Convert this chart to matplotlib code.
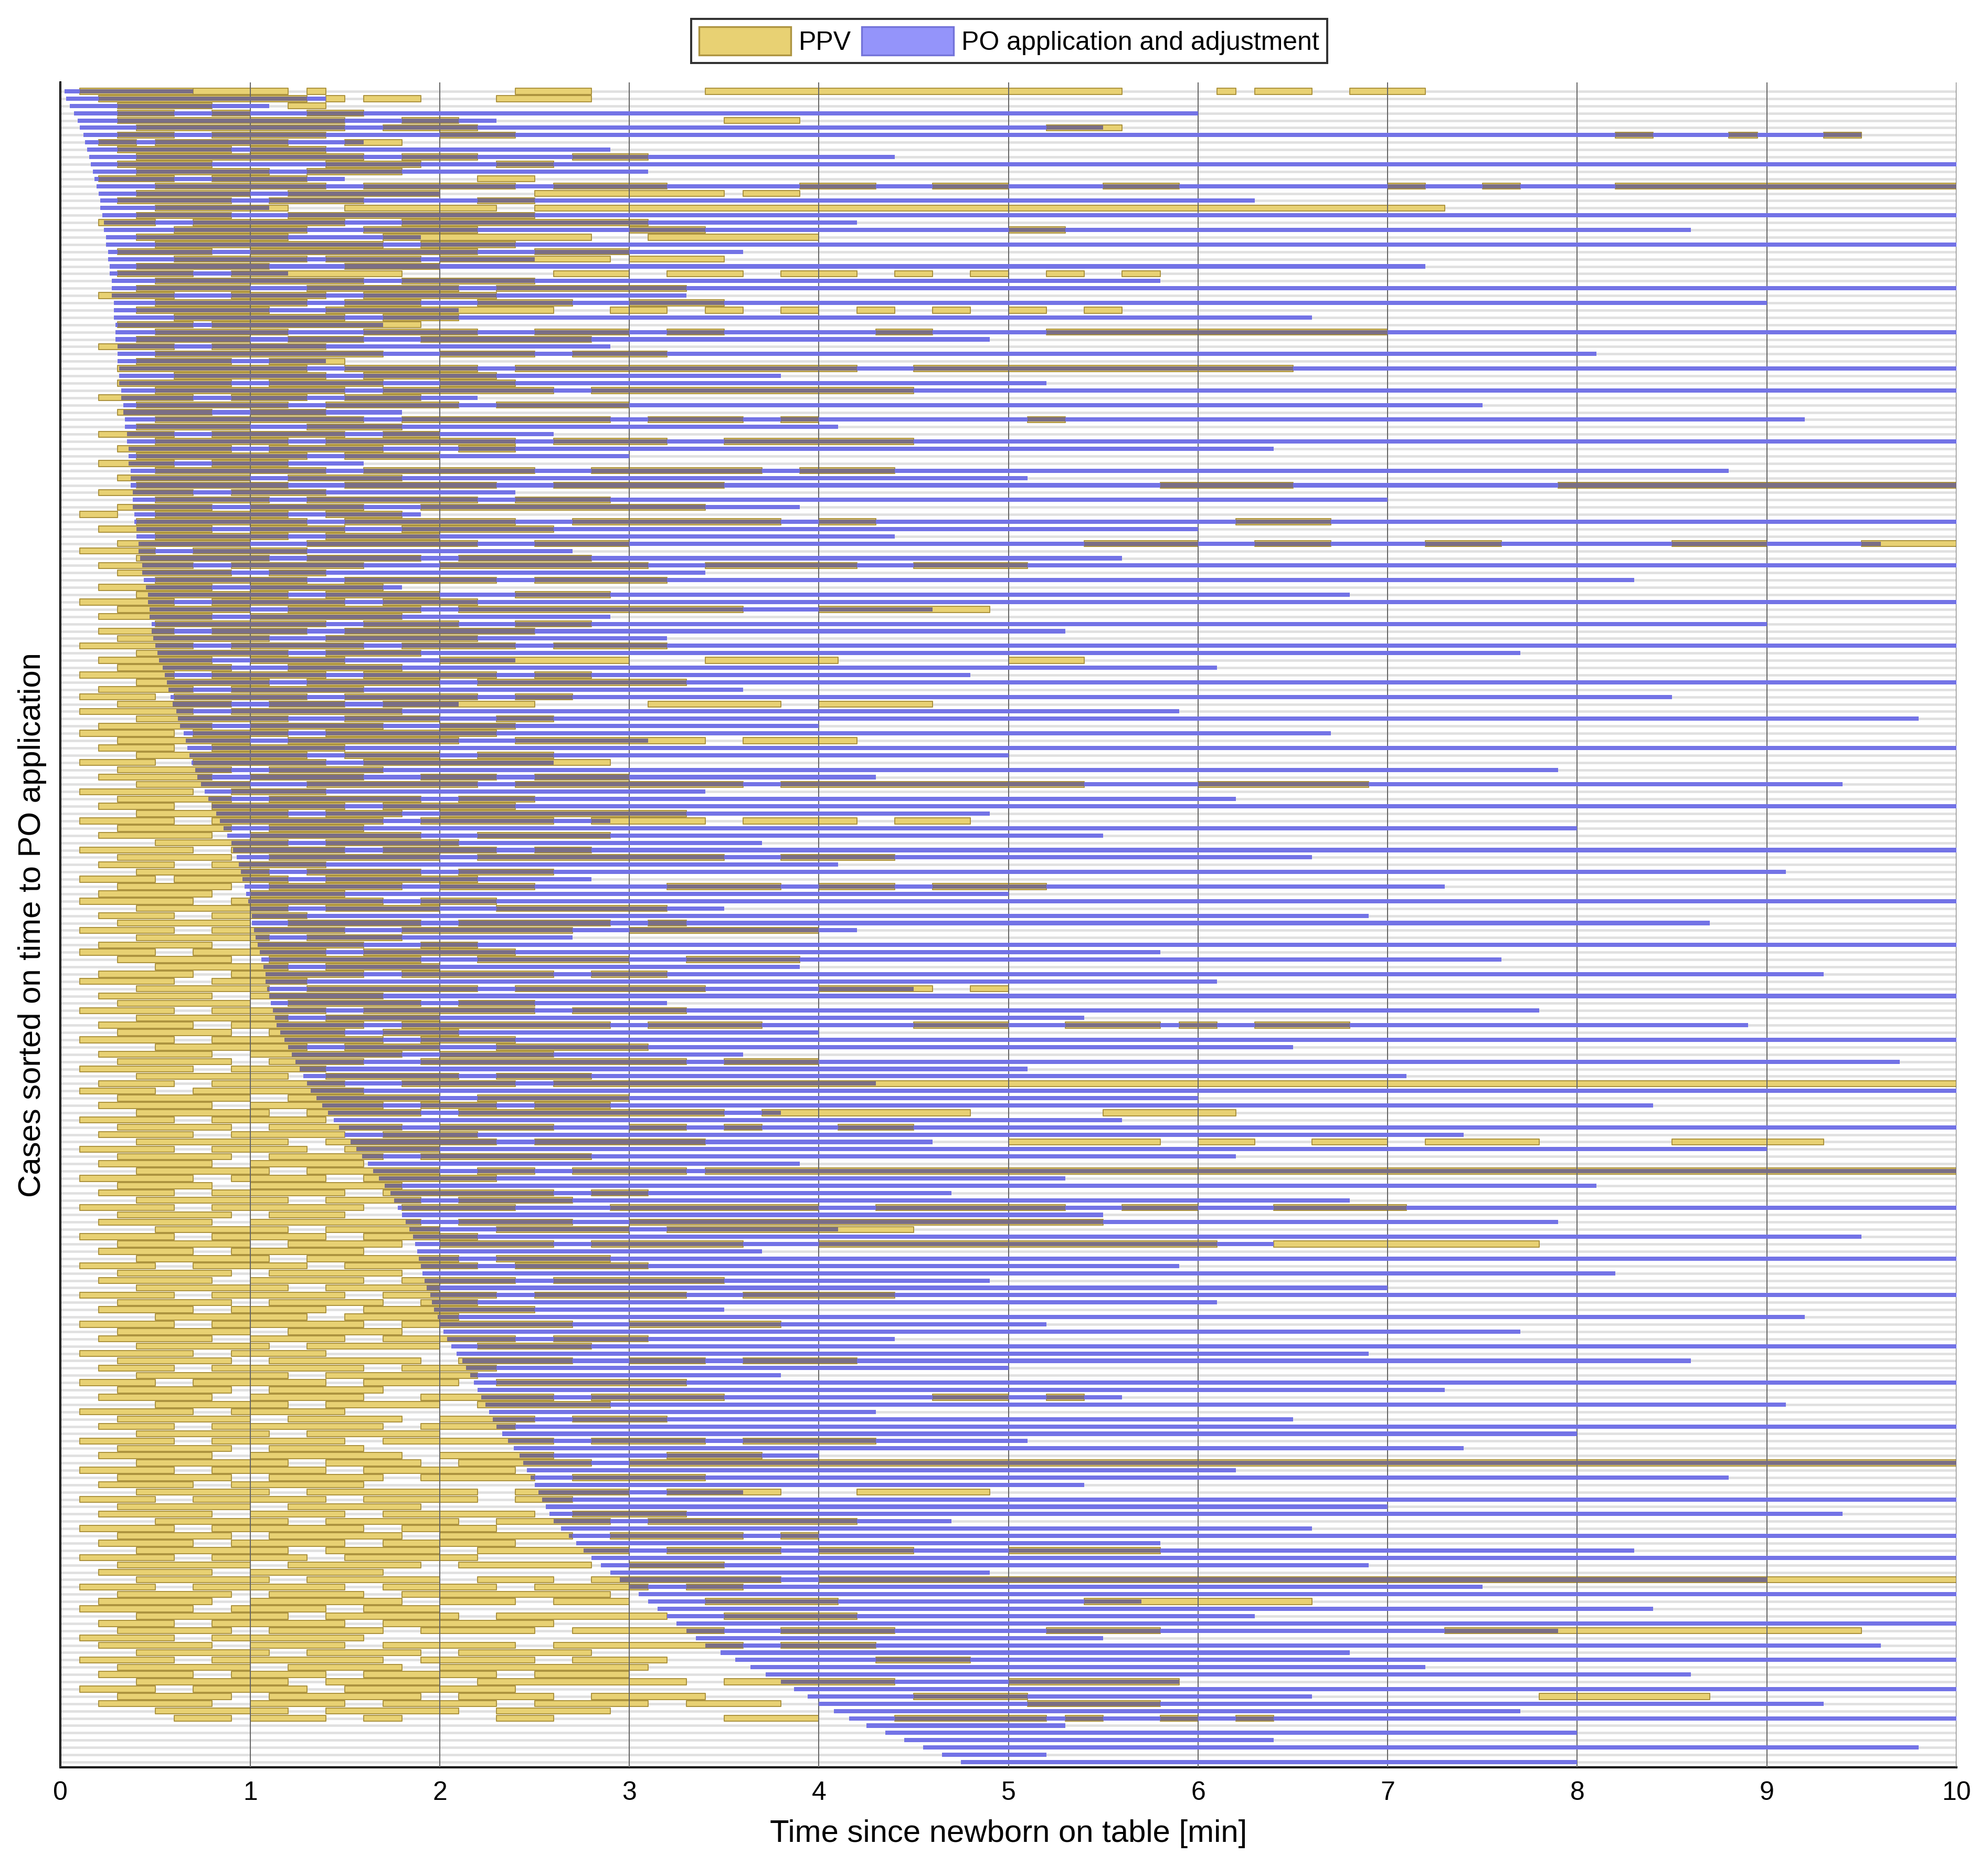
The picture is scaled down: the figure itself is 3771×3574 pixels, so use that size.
import matplotlib
matplotlib.use("Agg")
import matplotlib.pyplot as plt
from matplotlib.patches import Patch

plt.rcParams['font.family'] = ['Liberation Sans', 'DejaVu Sans']

# PO start time per case (sorted), minutes
po_start = [
0.02,0.03,0.05,0.07,0.09,0.10,0.12,0.13,0.14,0.15,
0.16,0.17,0.18,0.19,0.20,0.21,0.21,0.22,0.23,0.23,
0.24,0.24,0.25,0.25,0.26,0.26,0.27,0.27,0.27,0.28,
0.28,0.28,0.29,0.29,0.29,0.30,0.30,0.30,0.31,0.31,
0.31,0.32,0.32,0.33,0.33,0.34,0.34,0.35,0.35,0.36,
0.36,0.36,0.37,0.37,0.37,0.38,0.38,0.38,0.39,0.39,
0.40,0.40,0.41,0.41,0.42,0.43,0.43,0.44,0.45,0.46,
0.46,0.47,0.47,0.48,0.48,0.49,0.50,0.51,0.52,0.54,
0.55,0.56,0.57,0.58,0.59,0.61,0.62,0.63,0.65,0.66,
0.67,0.68,0.69,0.71,0.72,0.74,0.76,0.78,0.80,0.82,
0.84,0.86,0.88,0.90,0.91,0.93,0.94,0.95,0.96,0.97,
0.98,0.99,1.00,1.01,1.01,1.02,1.03,1.04,1.05,1.06,
1.07,1.08,1.08,1.09,1.10,1.11,1.12,1.13,1.14,1.16,
1.18,1.20,1.22,1.24,1.26,1.28,1.30,1.32,1.35,1.38,
1.41,1.44,1.47,1.50,1.53,1.56,1.59,1.62,1.65,1.68,
1.71,1.74,1.76,1.78,1.80,1.82,1.84,1.86,1.87,1.88,
1.89,1.90,1.91,1.92,1.93,1.95,1.96,1.97,1.99,2.00,
2.02,2.04,2.06,2.09,2.12,2.14,2.16,2.18,2.20,2.22,
2.24,2.26,2.28,2.30,2.33,2.36,2.39,2.42,2.44,2.46,
2.48,2.50,2.52,2.54,2.56,2.58,2.60,2.64,2.68,2.72,
2.76,2.80,2.85,2.90,2.95,3.00,3.05,3.10,3.15,3.20,
3.25,3.30,3.35,3.40,3.48,3.56,3.64,3.72,3.80,3.87,
3.94,4.00,4.08,4.16,4.25,4.35,4.45,4.55,4.65,4.75,
]

# PO end time per case, minutes
po_end = [
0.7,1.4,1.1,6.0,2.3,5.5,9.5,1.6,2.9,4.4,
10,3.1,1.5,10,2.0,6.3,1.1,10,4.2,8.6,
1.9,10,3.6,2.5,7.2,1.2,5.8,10,3.3,9.0,
2.1,6.6,1.7,10,4.9,2.9,8.1,1.4,10,3.8,
5.2,10,2.2,7.5,1.8,9.2,4.1,2.6,10,6.4,
3.0,1.6,8.8,5.1,10,2.4,7.0,3.9,1.9,10,
6.0,4.4,9.6,2.7,5.6,10,3.4,8.3,1.8,6.8,
10,4.6,2.9,9.0,5.3,3.2,10,7.7,2.4,6.1,
4.8,10,3.6,8.5,2.1,5.9,9.8,4.0,6.7,3.1,
10,5.0,2.6,7.9,4.3,9.4,3.4,6.2,10,4.9,
2.9,8.0,5.5,3.7,10,6.6,4.1,9.1,2.8,7.3,
5.0,10,3.5,6.9,8.7,4.2,2.7,10,5.8,7.6,
3.9,9.3,6.1,4.5,10,3.2,7.8,5.4,8.9,4.0,
10,6.5,3.6,9.7,5.1,7.1,4.3,10,6.0,8.4,
3.8,5.6,10,7.4,4.6,9.0,6.2,3.9,10,5.3,
8.1,4.7,6.8,10,5.5,7.9,4.1,9.5,6.4,3.7,
10,5.9,8.2,4.9,7.0,10,6.1,3.5,9.2,5.2,
7.7,4.4,10,6.9,8.6,5.0,3.8,10,7.3,5.6,
9.1,4.3,6.5,10,8.0,5.1,7.4,4.0,10,6.2,
8.8,5.4,3.6,10,7.0,9.4,4.7,6.6,10,5.8,
8.3,10,6.9,4.9,9.0,7.5,10,5.7,8.4,6.3,
10,7.9,5.5,9.6,6.8,10,7.2,8.6,5.9,10,
6.6,9.3,7.7,10,5.3,8.0,6.4,9.8,5.2,8.0,
]

# PPV periods per case, "start-end" pairs in minutes
ppv = [
"0.1-0.7 0.7-1.2 1.3-1.4 2.4-2.8 3.4-5.6 6.1-6.2 6.3-6.6 6.8-7.2",
"0.2-1.3 1.4-1.5 1.6-1.9 2.3-2.8",
"0.3-0.8 1.2-1.4",
"0.3-0.6 0.8-1.0 1.3-1.6",
"0.3-1.5 1.8-2.1 3.5-3.9",
"0.4-1.5 1.7-2.2 5.2-5.6",
"0.3-0.6 0.8-1.4 2.0-2.4 8.2-8.4 8.8-8.95 9.3-9.5",
"0.2-0.4 0.5-1.2 1.5-1.8",
"0.3-0.9 1.0-1.4",
"0.4-1.6 1.8-2.2 2.7-3.1",
"0.3-0.8 1.4-1.9 2.3-2.6",
"0.4-1.1 1.3-1.8",
"0.2-0.6 0.8-1.3 2.2-2.5",
"0.5-1.4 1.6-2.4 2.6-3.2 3.9-4.3 4.6-5.0 5.5-5.9 7.0-7.2 7.5-7.7 8.2-10",
"0.4-1.0 1.2-2.0 2.5-3.5 3.6-3.9",
"0.3-0.9 1.1-1.6 2.2-2.5",
"0.5-1.2 1.5-2.3 2.5-7.3",
"0.4-0.9 1.2-2.5",
"0.2-0.5 0.7-1.5 1.8-3.1",
"0.6-1.3 1.6-2.2 3.0-3.4 5.0-5.3",
"0.4-1.2 1.7-2.8 3.1-4.0",
"0.5-1.7 1.9-2.4",
"0.3-0.8 1.0-2.2 2.5-3.0",
"0.6-1.3 1.4-1.9 2.0-2.9 3.0-3.5",
"0.4-1.1 1.5-2.0",
"0.3-0.7 0.9-1.8 2.6-3.0 3.2-3.6 3.8-4.2 4.4-4.6 4.8-5.0 5.2-5.4 5.6-5.8",
"0.5-1.6 1.8-2.5",
"0.4-1.0 1.3-2.1 2.3-3.3",
"0.2-0.6 0.9-1.4 1.6-2.3",
"0.5-1.3 1.5-1.9 2.2-2.7 3.0-3.5",
"0.4-1.1 1.4-2.6 2.9-3.2 3.4-3.6 3.8-4.0 4.2-4.4 4.6-4.8 5.0-5.2 5.4-5.6",
"0.6-1.5 1.7-2.1",
"0.3-0.7 0.8-1.9",
"0.5-1.2 1.6-2.2 2.5-3.0 3.2-3.5 4.3-4.6 5.2-7.0",
"0.4-1.0 1.2-1.6 1.9-2.8",
"0.2-0.6 0.8-1.4",
"0.5-1.7 2.0-2.5 2.7-3.2",
"0.4-0.9 1.1-1.5",
"0.3-1.3 1.5-2.2 2.4-4.2 4.5-6.5",
"0.6-1.4 1.6-2.3",
"0.3-0.9 1.1-1.7 2.0-2.4",
"0.5-1.5 1.7-2.6 2.8-4.5",
"0.2-0.7 0.9-1.3 1.5-1.9",
"0.4-1.2 1.4-2.1 2.3-3.0",
"0.3-0.8 1.0-1.4",
"0.5-1.6 1.8-2.9 3.1-3.6 3.8-4.0 5.1-5.3",
"0.4-1.0 1.3-1.8",
"0.2-0.6 0.8-1.5 1.7-2.0",
"0.5-1.2 1.4-2.4 2.6-3.2 3.5-4.5",
"0.3-0.9 1.1-1.7 2.1-2.4",
"0.4-1.3 1.5-2.0",
"0.2-0.6 0.8-1.2",
"0.5-1.4 1.6-2.5 2.8-3.7 3.9-4.4",
"0.3-1.0 1.2-1.8",
"0.4-1.2 1.5-2.3 2.6-3.5 5.8-6.5 7.9-10",
"0.2-0.7 0.9-1.4",
"0.5-1.1 1.3-2.2 2.4-2.9",
"0.3-0.8 1.0-1.6 1.9-3.4",
"0.1-0.3 0.5-1.2 1.4-1.8",
"0.4-1.3 1.5-2.4 2.7-3.8 4.0-4.3 6.2-6.7",
"0.2-0.8 1.0-1.5 1.8-2.6",
"0.5-1.2 1.4-2.0",
"0.3-1.0 1.3-2.2 2.5-3.0 5.4-6.0 6.3-6.7 7.2-7.6 8.5-9.0 9.5-10",
"0.1-0.5 0.7-1.3",
"0.4-1.1 1.3-1.9 2.1-2.8",
"0.2-0.7 0.9-1.6 2.0-3.1 3.4-4.2 4.5-5.1",
"0.3-0.9 1.1-1.4",
"0.5-1.3 1.5-2.3 2.5-3.2",
"0.2-0.8 1.0-1.7",
"0.4-1.2 1.4-2.0 2.4-2.9",
"0.1-0.6 0.8-1.5 1.7-2.2",
"0.3-1.0 1.2-1.9 2.1-3.6 4.0-4.9",
"0.2-0.8 1.0-1.8",
"0.5-1.4 1.6-2.1 2.4-2.8",
"0.2-0.6 0.8-1.3 1.5-2.5",
"0.3-1.1 1.4-2.2",
"0.1-0.7 0.9-1.6 1.8-2.4 2.6-3.2",
"0.4-1.2 1.4-1.9",
"0.2-0.8 1.0-1.5 2.0-3.0 3.4-4.1 5.0-5.4",
"0.3-0.9 1.2-1.8",
"0.1-0.6 0.8-1.4 1.6-2.3 2.5-2.8",
"0.4-1.1 1.3-2.0 2.2-3.3",
"0.2-0.7 0.9-1.6",
"0.1-0.5 0.6-1.3 1.5-2.2 2.4-2.7",
"0.3-0.9 1.1-1.5 1.7-2.5 3.1-3.8 4.0-4.6",
"0.1-0.7 0.9-1.8",
"0.4-1.2 1.5-2.0 2.3-2.6",
"0.2-0.8 1.0-1.7 2.0-2.4",
"0.1-0.6 0.7-1.2 1.4-2.3",
"0.3-1.0 1.2-2.1 2.4-3.4 3.6-4.2",
"0.2-0.6 0.8-1.5",
"0.4-1.3 1.5-2.0 2.2-2.6",
"0.1-0.5 0.7-1.4 1.6-2.9",
"0.3-0.9 1.1-1.7",
"0.2-0.8 1.0-1.6 1.9-2.3 2.5-3.0",
"0.4-1.0 1.3-2.2 2.4-3.6 3.8-5.4 6.0-6.9",
"0.1-0.7 0.9-1.4",
"0.3-0.9 1.1-1.9 2.1-2.5",
"0.2-0.6 0.8-1.5 1.7-2.4",
"0.4-1.2 1.4-1.8 2.0-3.3",
"0.1-0.6 0.8-1.7 1.9-2.6 2.8-3.4 3.6-4.2 4.4-4.8",
"0.3-0.9 1.1-1.6",
"0.2-0.8 1.0-1.9 2.2-2.9",
"0.5-1.2 1.4-2.1",
"0.1-0.7 0.9-1.5 1.7-2.3 2.5-2.8",
"0.3-0.9 1.1-2.0 2.2-3.5 3.8-4.4",
"0.2-0.6 0.8-1.4",
"0.4-1.1 1.3-1.9 2.1-2.6",
"0.1-0.5 0.6-1.2 1.4-2.2",
"0.3-0.9 1.1-1.8 2.0-2.5 3.2-3.8 4.0-4.4 4.6-5.2",
"0.2-0.8 1.0-1.5",
"0.1-0.7 0.9-1.7 1.9-2.3",
"0.4-1.2 1.4-2.0 2.3-3.2",
"0.2-0.6 0.8-1.3",
"0.3-1.0 1.2-1.9 2.1-2.9 3.1-3.3",
"0.1-0.6 0.8-1.5 1.8-2.7 3.0-4.0",
"0.4-1.1 1.3-1.8",
"0.2-0.8 1.0-1.6 1.9-2.2",
"0.1-0.5 0.7-1.4 1.6-2.4",
"0.3-0.9 1.1-1.9 2.2-3.0 3.3-3.9",
"0.5-1.2 1.4-2.0",
"0.2-0.7 0.9-1.6 1.8-2.6 2.8-3.2",
"0.1-0.6 0.8-1.3",
"0.4-1.1 1.3-2.2 2.4-3.4 4.0-4.6 4.8-5.0",
"0.2-0.8 1.0-1.7",
"0.3-1.0 1.2-1.9 2.1-2.5",
"0.1-0.6 0.8-1.4 1.6-2.5 2.7-3.3",
"0.4-1.2 1.4-2.0",
"0.2-0.7 0.9-1.6 1.8-2.9 3.1-3.7 4.5-5.0 5.3-5.8 5.9-6.1 6.3-6.8",
"0.3-0.9 1.1-1.5 1.7-2.1",
"0.1-0.6 0.8-1.7 1.9-2.4",
"0.5-1.3 1.5-2.0 2.3-3.1",
"0.2-0.8 1.0-1.8 2.0-2.6",
"0.3-0.9 1.1-1.6 1.9-3.3 3.5-4.0",
"0.1-0.7 0.9-1.4",
"0.4-1.2 1.4-2.1 2.3-2.8",
"0.2-0.6 0.8-1.5 1.8-2.4 2.6-10",
"0.1-0.5 0.7-1.6",
"0.3-1.0 1.2-2.0 2.2-3.0",
"0.2-0.8 1.0-1.7 1.9-2.3 2.5-2.9",
"0.4-1.1 1.3-1.9 2.1-3.5 3.7-4.8 5.5-6.2",
"0.1-0.6 0.8-1.4",
"0.3-0.9 1.1-1.8 2.0-2.6 3.0-3.3 3.5-3.7 4.1-4.5",
"0.2-0.7 0.9-1.5 1.7-2.2",
"0.4-1.2 1.4-2.3 2.5-3.4 5.0-5.8 6.0-6.3 6.6-7.0 7.2-7.8 8.5-9.3",
"0.1-0.6 0.8-1.3 1.5-2.0",
"0.3-0.9 1.1-1.7 1.9-2.8",
"0.2-0.8 1.0-1.6",
"0.4-1.1 1.3-2.0 2.2-2.5 2.7-3.3 3.4-10",
"0.1-0.7 0.9-1.4 1.6-2.3",
"0.3-0.8 1.0-1.8",
"0.2-0.6 0.8-1.5 1.7-2.6 2.8-3.1",
"0.4-1.2 1.4-1.9 2.1-2.7",
"0.1-0.6 0.8-1.6 1.8-2.4 2.9-4.0 4.3-5.3 5.6-6.0 6.4-7.1",
"0.3-0.9 1.1-1.5",
"0.2-0.8 1.0-1.9 2.1-2.7 3.0-5.5",
"0.5-1.2 1.4-2.0 2.3-3.0 3.2-4.5",
"0.1-0.6 0.8-1.4 1.6-2.2",
"0.3-1.0 1.2-1.8 2.0-2.6 2.8-3.6 4.0-6.1 6.4-7.8",
"0.2-0.7 0.9-1.6",
"0.4-1.1 1.3-2.1 2.3-2.9",
"0.1-0.5 0.7-1.3 1.5-2.2 2.4-3.1",
"0.3-0.9 1.1-1.8",
"0.2-0.8 1.0-1.6 1.8-2.4 2.6-3.5",
"0.4-1.2 1.4-2.0",
"0.1-0.6 0.8-1.5 1.7-2.3 2.5-3.3 3.6-4.4",
"0.3-0.9 1.1-1.7 1.9-2.2",
"0.2-0.7 0.9-1.4 1.6-2.5",
"0.5-1.3 1.5-2.1",
"0.1-0.6 0.8-1.6 1.8-2.7 3.0-3.8",
"0.3-1.0 1.2-1.8",
"0.2-0.8 1.0-1.5 1.7-2.4 2.6-3.1",
"0.4-1.1 1.3-2.0 2.2-2.8",
"0.1-0.7 0.9-1.4",
"0.3-0.9 1.1-1.9 2.1-2.7 3.0-3.4 3.6-4.2",
"0.2-0.6 0.8-1.6 1.8-2.3",
"0.4-1.2 1.4-2.2",
"0.1-0.5 0.7-1.4 1.6-2.1 2.3-3.3",
"0.3-0.9 1.1-1.7",
"0.2-0.8 1.0-1.6 1.9-2.6 2.8-3.5 4.6-5.0 5.2-5.4",
"0.5-1.2 1.4-2.0 2.2-2.9",
"0.1-0.7 0.9-1.5",
"0.3-1.0 1.2-1.8 2.0-2.5 2.7-3.2",
"0.2-0.6 0.8-1.7 1.9-2.4",
"0.4-1.1 1.3-2.0",
"0.1-0.6 0.8-1.5 1.7-2.6 2.8-3.4 3.6-4.3",
"0.3-0.9 1.1-1.6",
"0.2-0.8 1.0-1.8 2.0-2.6 3.2-3.7",
"0.4-1.2 1.4-1.9 2.1-2.8 3.0-10",
"0.1-0.6 0.8-1.4 1.6-2.4",
"0.3-0.9 1.1-1.7 1.9-2.5 2.7-3.4",
"0.2-0.7 0.9-1.6",
"0.4-1.1 1.3-2.2 2.4-3.0 3.2-3.8 4.2-4.9",
"0.1-0.5 0.7-1.4 1.6-2.2 2.4-2.7",
"0.3-1.0 1.2-1.9",
"0.2-0.8 1.0-1.5 1.7-2.5 2.7-3.3",
"0.5-1.2 1.4-2.1 2.3-2.9 3.1-4.2",
"0.1-0.6 0.8-1.6 1.8-2.3",
"0.3-0.9 1.1-1.8 2.0-2.7 2.9-3.6 3.8-4.0",
"0.2-0.7 0.9-1.5 1.7-2.4",
"0.4-1.2 1.4-2.0 2.2-3.0 3.2-3.8 4.0-4.5 5.0-5.8",
"0.1-0.6 0.8-1.3 1.5-2.2",
"0.3-1.0 1.2-1.9 2.1-2.8 3.0-3.5",
"0.2-0.8 1.0-1.7",
"0.4-1.1 1.3-2.0 2.2-2.6 2.8-3.8 4.0-10",
"0.1-0.5 0.7-1.5 1.7-2.3 2.5-3.1 3.3-3.6",
"0.3-0.9 1.1-1.6 1.8-2.9",
"0.2-0.8 1.0-1.8 2.0-2.4 2.6-3.0 3.4-4.1 5.4-6.6",
"0.1-0.7 0.9-1.4 1.6-2.0",
"0.4-1.2 1.4-2.1 2.3-3.2 3.5-4.2",
"0.2-0.6 0.8-1.5 1.7-2.6",
"0.3-0.9 1.1-1.7 1.9-2.5 2.7-3.5 3.8-4.4 5.2-5.8 7.3-9.5",
"0.1-0.6 0.8-1.6",
"0.2-0.8 1.0-1.5 1.7-2.4 2.6-3.6 3.8-4.3",
"0.4-1.1 1.3-1.9 2.1-2.8",
"0.1-0.6 0.8-1.7 1.9-2.5 2.7-3.2 4.3-4.8",
"0.3-1.0 1.2-1.8 2.0-3.1",
"0.2-0.7 0.9-1.4 1.6-2.3 2.5-3.0",
"0.4-1.2 1.4-2.0 2.2-3.3 3.5-4.4 5.0-5.9",
"0.1-0.5 0.7-1.3 1.5-2.4",
"0.3-0.9 1.1-1.9 2.1-2.6 2.8-3.4 4.5-5.1 7.8-8.7",
"0.2-0.8 1.0-1.5 1.7-2.3 2.5-3.1 3.3-3.8 5.1-5.8",
"0.5-1.2 1.4-2.1 2.3-2.9",
"0.6-0.9 1.0-1.4 1.6-1.8 2.3-2.6 3.5-4.0 4.4-5.2 5.3-5.5 5.8-6.0 6.2-6.4",
]

def parse(s):
    out = []
    for tok in s.split():
        a, b = tok.split("-")
        out.append((float(a), float(b)))
    return out

n = len(po_start)
fig = plt.figure(figsize=(3771/240, 3574/240), dpi=240)
ax = fig.add_axes([0.0306, 0.058, 0.958, 0.898])

yellow_face = (0.91, 0.82, 0.45)
yellow_edge = (0.68, 0.58, 0.25)
blue_face = (0.45, 0.45, 0.90)
overlap = (0.48, 0.43, 0.52)
hy = 0.82
hb = 0.58

for i in range(n):
    y = i
    ax.plot([0, 10], [y, y], color=(0.88, 0.88, 0.88), lw=1.4, zorder=0)
    segs = parse(ppv[i]) if i < len(ppv) else []
    ps, pe = po_start[i], po_end[i]
    ax.broken_barh([(a, b - a) for a, b in segs], (y - hy/2, hy),
                   facecolors=yellow_face, edgecolors=yellow_edge, linewidth=0.6, zorder=2)
    ax.broken_barh([(ps, pe - ps)], (y - hb/2, hb),
                   facecolors=blue_face, edgecolors='none', zorder=3)
    ov = []
    for a, b in segs:
        lo, hi = max(a, ps), min(b, pe)
        if hi > lo:
            ov.append((lo, hi - lo))
    if ov:
        ax.broken_barh(ov, (y - hb/2, hb), facecolors=overlap, edgecolors='none', zorder=4)

ax.set_xlim(0, 10)
ax.set_ylim(n - 0.3, -1.2)
ax.set_xticks(range(11))
ax.set_yticks([])
ax.grid(axis='x', color=(0.4, 0.4, 0.4), lw=0.6, zorder=1)
ax.set_axisbelow(False)
for sp in ['top', 'right']:
    ax.spines[sp].set_visible(False)
ax.spines['left'].set_linewidth(1.2)
ax.spines['bottom'].set_linewidth(1.2)
ax.tick_params(axis='x', labelsize=15, direction='in', length=0, pad=8)
ax.set_xlabel("Time since newborn on table [min]", fontsize=18, labelpad=8)
ax.set_ylabel("Cases sorted on time to PO application", fontsize=18, labelpad=8)

handles = [Patch(facecolor=yellow_face, edgecolor=yellow_edge, label='PPV'),
           Patch(facecolor=(0.58, 0.58, 0.98), edgecolor=(0.45, 0.45, 0.85), label='PO application and adjustment')]
leg = fig.legend(handles=handles, loc='upper center', bbox_to_anchor=(0.51, 0.997), ncol=2,
                 fontsize=15, frameon=True, fancybox=False, edgecolor='black',
                 handlelength=3.5, handleheight=1.3, columnspacing=0.4, handletextpad=0.3,
                 borderpad=0.3)
leg.get_frame().set_linewidth(1.2)

fig.savefig("out.png", dpi=240)
